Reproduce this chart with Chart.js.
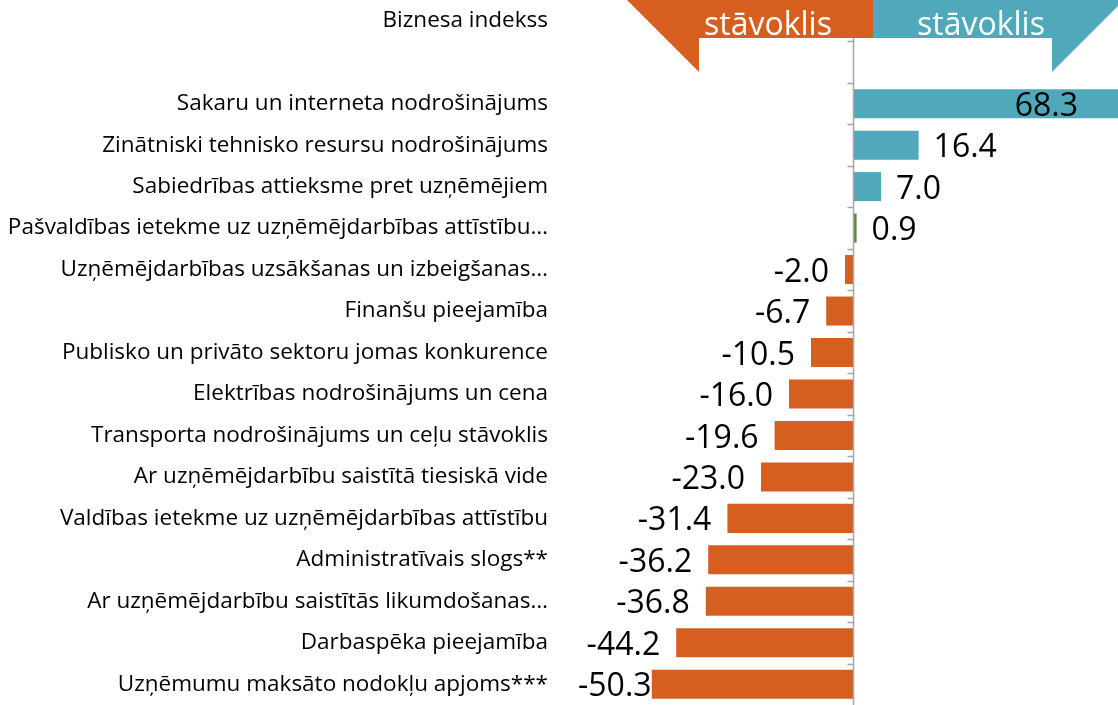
<!DOCTYPE html>
<html>
<head>
<meta charset="utf-8">
<script src="https://cdn.jsdelivr.net/npm/chart.js@4.4.1/dist/chart.umd.min.js"></script>
<style>
  html, body { margin: 0; padding: 0; background: #fff; }
  #wrap { width: 1118px; height: 705px; }
</style>
</head>
<body>
<div id="wrap"><canvas id="grafico" width="1118" height="705"></canvas></div>
<script>
// kategorijas (pirmā ir virsraksta rinda, otrā tukša)
var kategorijas = [
  "Biznesa indekss",
  "",
  "Sakaru un interneta nodrošinājums",
  "Zinātniski tehnisko resursu nodrošinājums",
  "Sabiedrības attieksme pret uzņēmējiem",
  "Pašvaldības ietekme uz uzņēmējdarbības attīstību…",
  "Uzņēmējdarbības uzsākšanas un izbeigšanas…",
  "Finanšu pieejamība",
  "Publisko un privāto sektoru jomas konkurence",
  "Elektrības nodrošinājums un cena",
  "Transporta nodrošinājums un ceļu stāvoklis",
  "Ar uzņēmējdarbību saistītā tiesiskā vide",
  "Valdības ietekme uz uzņēmējdarbības attīstību",
  "Administratīvais slogs**",
  "Ar uzņēmējdarbību saistītās likumdošanas…",
  "Darbaspēka pieejamība",
  "Uzņēmumu maksāto nodokļu apjoms***"
];
var vertibas = [null, null, 68.3, 16.4, 7.0, 0.9, -2.0, -6.7, -10.5, -16.0, -19.6, -23.0, -31.4, -36.2, -36.8, -44.2, -50.3];
var virsraksti = ["stāvoklis", "stāvoklis"];

var ORANZS = '#D65F1F';
var ZILS = '#4FA9BB';
var ZALS = '#5A8B3C';

function krasa(v) {
  if (v == null) return ZILS;
  if (v > 1) return ZILS;
  if (v < -1) return ORANZS;
  return ZALS;
}

// vērtību etiķetes
var etiketes = {
  id: 'etiketes',
  afterDatasetsDraw: function (chart) {
    var ctx = chart.ctx, ca = chart.chartArea;
    var meta = chart.getDatasetMeta(0);
    ctx.save();
    ctx.font = '32px "Open Sans"';
    ctx.fillStyle = '#000';
    ctx.textBaseline = 'middle';
    meta.data.forEach(function (bar, i) {
      var v = vertibas[i];
      if (v == null) return;
      var txt = v.toFixed(1);
      var w = ctx.measureText(txt).width;
      var y = bar.y + 3;
      if (v >= 0) {
        var x = bar.x + 15;
        if (x + w > ca.right) { ctx.textAlign = 'right'; ctx.fillText(txt, ca.right - 40, y); }
        else { ctx.textAlign = 'left'; ctx.fillText(txt, x, y); }
      } else {
        var x2 = bar.x - 16;
        if (x2 - w < ca.left) { ctx.textAlign = 'left'; ctx.fillText(txt, ca.left, y); }
        else { ctx.textAlign = 'right'; ctx.fillText(txt, x2, y); }
      }
    });
    ctx.restore();
  }
};

// vertikālā ass pie nulles un bultas augšā
var ass = {
  id: 'ass',
  afterDraw: function (chart) {
    var ctx = chart.ctx, ca = chart.chartArea;
    var xs = chart.scales.x, ys = chart.scales.y;
    var x0 = Math.round(xs.getPixelForValue(0)) + 0.5;
    var solis = ys.getPixelForValue(1) - ys.getPixelForValue(0);
    ctx.save();
    ctx.strokeStyle = '#A6A6A6';
    ctx.lineWidth = 1.5;
    ctx.beginPath();
    ctx.moveTo(x0, 38);
    ctx.lineTo(x0, ca.bottom);
    for (var k = 1; k < kategorijas.length; k++) {
      var yt = Math.round(ys.getPixelForValue(k) - solis / 2) + 0.5;
      ctx.moveTo(x0 - 6, yt);
      ctx.lineTo(x0, yt);
    }
    ctx.stroke();

    // oranžā bulta
    ctx.fillStyle = ORANZS;
    ctx.beginPath();
    ctx.moveTo(627, 0); ctx.lineTo(873, 0); ctx.lineTo(873, 38);
    ctx.lineTo(699, 38); ctx.lineTo(699, 72); ctx.closePath();
    ctx.fill();
    // zilā bulta
    ctx.fillStyle = ZILS;
    ctx.beginPath();
    ctx.moveTo(873, 0); ctx.lineTo(1124, 0); ctx.lineTo(1052, 72);
    ctx.lineTo(1052, 38); ctx.lineTo(873, 38); ctx.closePath();
    ctx.fill();

    ctx.fillStyle = '#fff';
    ctx.font = '32px "Open Sans"';
    ctx.textAlign = 'center';
    ctx.textBaseline = 'alphabetic';
    ctx.fillText(virsraksti[0], 768, 35);
    ctx.fillText(virsraksti[1], 981, 35);
    ctx.restore();
  }
};

var grafiks = new Chart(document.getElementById('grafico'), {
  type: 'bar',
  data: {
    labels: kategorijas,
    datasets: [{
      data: vertibas,
      backgroundColor: vertibas.map(krasa),
      borderWidth: 0,
      barPercentage: 0.7,
      categoryPercentage: 1
    }]
  },
  options: {
    indexAxis: 'y',
    responsive: false,
    animation: false,
    devicePixelRatio: 1,
    layout: { padding: { left: 0, right: 0, top: -3, bottom: -4 } },
    plugins: { legend: { display: false }, tooltip: { enabled: false } },
    scales: {
      x: {
        display: false,
        min: -68.75,
        max: 66.25
      },
      y: {
        afterFit: function (s) { s.width = 578; s.paddingTop = 0; s.paddingBottom = 0; },
        grid: { display: false, drawTicks: false },
        border: { display: false },
        ticks: {
          autoSkip: false,
          padding: 30,
          color: '#000',
          font: { family: '"Open Sans"', size: 22.5 }
        }
      }
    }
  },
  plugins: [etiketes, ass]
});
</script>
</body>
</html>
